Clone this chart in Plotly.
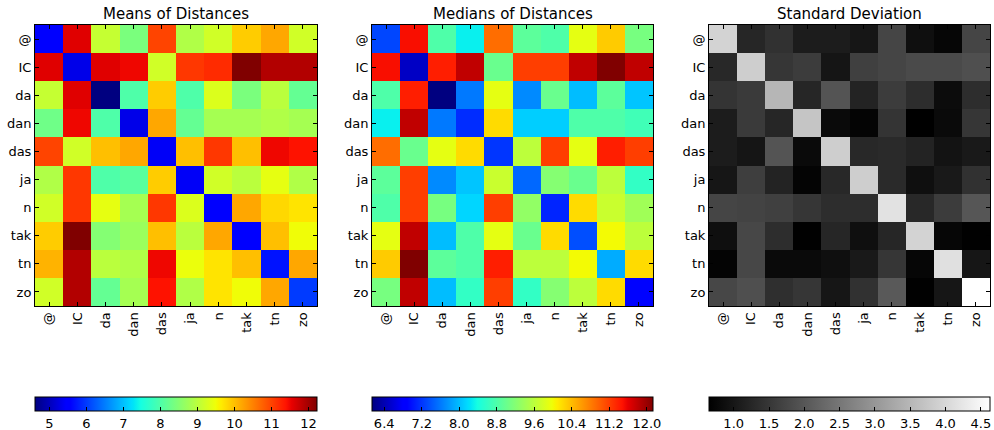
import numpy as np
import plotly.graph_objects as go

labels = ['@', 'IC', 'da', 'dan', 'das', 'ja', 'n', 'tak', 'tn', 'zo']

means = [
    [5.5, 11.6, 9.1, 8.4, 11.0, 8.9, 9.2, 9.9, 10.2, 9.2],
    [11.6, 5.3, 11.6, 11.5, 9.2, 11.1, 11.2, 12.23, 11.9, 11.9],
    [9.1, 11.6, 4.61, 8.0, 9.9, 8.0, 9.3, 8.4, 9.0, 8.2],
    [8.3, 11.5, 8.0, 5.3, 10.2, 8.2, 8.8, 8.8, 8.9, 8.8],
    [11.0, 9.2, 10.0, 10.2, 5.4, 10.0, 11.1, 10.0, 11.5, 11.4],
    [8.9, 11.1, 8.0, 8.1, 9.9, 5.4, 9.2, 9.0, 9.4, 8.9],
    [9.2, 11.1, 9.4, 8.8, 11.1, 9.3, 5.5, 10.2, 9.8, 9.7],
    [9.9, 12.23, 8.5, 8.7, 10.0, 9.0, 10.2, 5.5, 10.0, 9.5],
    [10.1, 11.9, 9.0, 8.9, 11.5, 9.45, 9.7, 10.0, 5.7, 10.2],
    [9.2, 11.9, 8.2, 8.8, 11.4, 8.9, 9.7, 9.5, 10.2, 6.0],
]

medians = [
    [7.3, 11.5, 8.8, 8.3, 10.9, 8.9, 8.8, 9.9, 10.3, 9.1],
    [11.5, 6.5, 11.4, 11.8, 9.0, 11.2, 11.2, 11.8, 12.13, 11.8],
    [8.8, 11.4, 6.14, 7.6, 9.9, 7.7, 9.0, 8.0, 8.9, 8.05],
    [8.3, 11.8, 7.6, 7.15, 10.2, 8.1, 8.1, 8.8, 8.8, 8.7],
    [10.9, 9.0, 9.9, 10.2, 7.2, 9.6, 11.2, 9.9, 11.4, 11.2],
    [8.9, 11.2, 7.7, 8.05, 9.7, 7.5, 9.2, 9.0, 9.6, 8.6],
    [8.8, 11.2, 9.1, 8.15, 11.2, 9.3, 7.1, 10.2, 9.7, 9.4],
    [9.9, 11.8, 8.0, 8.8, 9.9, 9.0, 10.2, 7.35, 10.0, 9.6],
    [10.3, 12.13, 8.9, 8.8, 11.4, 9.6, 9.6, 10.0, 7.9, 10.2],
    [9.1, 11.8, 8.0, 8.6, 11.2, 8.6, 9.2, 9.6, 10.2, 6.9],
]

stds = [
    [3.95, 1.24, 1.42, 1.09, 1.09, 1.0, 1.73, 0.89, 0.74, 1.73],
    [1.27, 3.87, 1.5, 1.58, 0.97, 1.65, 1.73, 1.81, 1.81, 1.88],
    [1.46, 1.55, 3.49, 1.24, 1.96, 1.2, 1.58, 1.35, 0.84, 1.35],
    [1.09, 1.55, 1.24, 3.72, 0.81, 0.71, 1.46, 0.65, 0.81, 1.5],
    [1.09, 0.97, 1.96, 0.81, 3.87, 1.27, 1.3, 1.2, 0.94, 1.04],
    [1.0, 1.61, 1.2, 0.71, 1.27, 3.87, 1.3, 0.89, 1.04, 1.42],
    [1.73, 1.7, 1.65, 1.5, 1.35, 1.35, 4.18, 1.27, 1.58, 2.0],
    [0.89, 1.76, 1.35, 0.66, 1.24, 0.89, 1.24, 3.95, 0.74, 0.66],
    [0.71, 1.76, 0.81, 0.81, 0.89, 1.04, 1.5, 0.74, 4.15, 1.0],
    [1.76, 1.88, 1.39, 1.5, 1.0, 1.42, 2.04, 0.66, 1.0, 4.63],
]

titles = ['Means of Distances', 'Medians of Distances', 'Standard Deviation']


def jet_colorscale():
    red = [(0, 0), (0.35, 0), (0.66, 1), (0.89, 1), (1, 0.5)]
    green = [(0, 0), (0.125, 0), (0.375, 1), (0.64, 1), (0.91, 0), (1, 0)]
    blue = [(0, 0.5), (0.11, 1), (0.34, 1), (0.65, 0), (1, 0)]
    pts = sorted(set([p for p, _ in red + green + blue]))
    out = []
    for p in pts:
        c = []
        for seg in (red, green, blue):
            xs, ys = zip(*seg)
            c.append(int(round(255 * float(np.interp(p, xs, ys)))))
        out.append([p, f'rgb({c[0]},{c[1]},{c[2]})'])
    return out


jet = jet_colorscale()
gray = [[0, 'rgb(0,0,0)'], [1, 'rgb(255,255,255)']]

W, H = 994, 430
xdoms = [(35, 317), (372, 653), (709, 990)]
ytop, ybot = 25, 306
ydom = [1 - ybot / H, 1 - ytop / H]
cb_top = 397

cb_ticks = [
    dict(tick0=5, dtick=1, tickformat='d'),
    dict(tick0=6.4, dtick=0.8, tickformat='.1f'),
    dict(tick0=1.0, dtick=0.5, tickformat='.1f'),
]

font = 'DejaVu Sans'
fig = go.Figure()
datas = [means, medians, stds]
scales = [jet, jet, gray]

for i in range(3):
    sfx = '' if i == 0 else str(i + 1)
    x0, x1 = xdoms[i]
    fig.add_trace(go.Heatmap(
        z=datas[i], x=labels, y=labels,
        colorscale=scales[i], hoverinfo='skip',
        xaxis='x' + sfx, yaxis='y' + sfx,
        colorbar=dict(
            orientation='h', x=x0 / W, xanchor='left',
            y=1 - cb_top / H, yanchor='top',
            len=x1 - x0, lenmode='pixels',
            thickness=14, thicknessmode='pixels',
            xpad=0, ypad=0,
            outlinecolor='black', outlinewidth=1,
            ticks='inside', ticklen=4, tickcolor='black', tickwidth=1,
            tickfont=dict(family=font, size=13, color='black'),
            tickmode='linear', **cb_ticks[i],
        ),
    ))
    ax = dict(
        domain=[x0 / W, x1 / W], anchor='y' + sfx,
        showline=True, linecolor='black', linewidth=1, mirror='ticks',
        ticks='inside', ticklen=4, tickcolor='black',
        tickangle=-90, tickfont=dict(family=font, size=13, color='black'),
        showgrid=False, zeroline=False, automargin=False,
        categoryorder='array', categoryarray=labels,
    )
    ay = dict(
        domain=ydom, anchor='x' + sfx,
        showline=True, linecolor='black', linewidth=1, mirror='ticks',
        ticks='inside', ticklen=4, tickcolor='black',
        tickfont=dict(family=font, size=13, color='black'),
        showgrid=False, zeroline=False, automargin=False,
        autorange='reversed',
        categoryorder='array', categoryarray=labels,
    )
    fig.update_layout(**{'xaxis' + sfx: ax, 'yaxis' + sfx: ay})
    fig.add_annotation(
        text=titles[i], xref='paper', yref='paper',
        x=(x0 + x1) / 2 / W, y=1 - ytop / H, xanchor='center', yanchor='bottom',
        showarrow=False, font=dict(family=font, size=15, color='black'),
    )

fig.update_layout(
    width=W, height=H,
    margin=dict(l=0, r=0, t=0, b=0, autoexpand=False),
    paper_bgcolor='white', plot_bgcolor='white',
    showlegend=False,
    font=dict(family=font, size=13, color='black'),
)

fig.write_html(
    'out.html',
    config={'displayModeBar': False, 'staticPlot': True},
    post_script=(
        "document.body.style.margin='0';"
        "document.body.style.padding='0';"
        "document.body.style.overflow='hidden';"
    ),
)
